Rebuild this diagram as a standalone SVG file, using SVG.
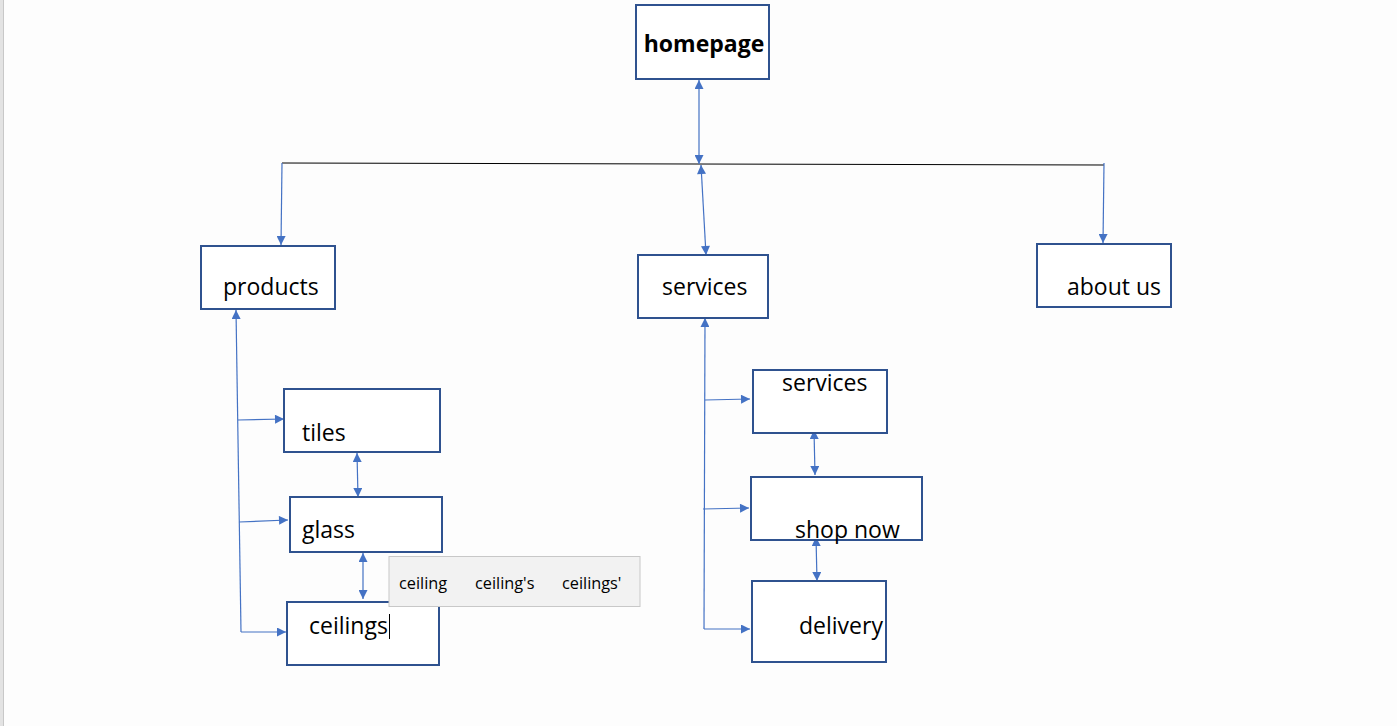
<svg xmlns="http://www.w3.org/2000/svg" width="1397" height="726" viewBox="0 0 1397 726">
<style>
.box{fill:#fff;stroke:#2f528f;stroke-width:2}
.lbl{font-family:"Open Sans","Noto Sans",sans-serif;font-size:23px;fill:#000}
.con{stroke:#4472c4;stroke-width:1.2;fill:none}
.ac{font-family:"Open Sans","Noto Sans",sans-serif;font-size:16.3px;fill:#000}
</style>
<defs>
<marker id="ah" viewBox="0 0 10 10" refX="10" refY="5" markerWidth="10" markerHeight="9" markerUnits="userSpaceOnUse" orient="auto-start-reverse">
<path d="M0,0 L10,5 L0,10 z" fill="#4472c4"/>
</marker>
</defs>
<rect x="0" y="0" width="1397" height="726" fill="#fdfdfd"/>
<rect x="0" y="0" width="3" height="726" fill="#e3e3e3"/>
<line x1="3.5" y1="0" x2="3.5" y2="726" stroke="#c8c8c8" stroke-width="1"/>

<g id="connectors">
<line x1="282" y1="163" x2="1104" y2="165" stroke="#000" stroke-width="1"/>
<line class="con" x1="699" y1="80" x2="699" y2="164" marker-start="url(#ah)" marker-end="url(#ah)"/>
<line class="con" x1="282" y1="163" x2="281" y2="245" marker-end="url(#ah)"/>
<line class="con" x1="701" y1="165" x2="706" y2="255" marker-start="url(#ah)" marker-end="url(#ah)"/>
<line class="con" x1="1104" y1="163" x2="1103" y2="243" marker-end="url(#ah)"/>

<line class="con" x1="236" y1="310" x2="241" y2="632" marker-start="url(#ah)"/>
<line class="con" x1="238" y1="420" x2="284" y2="419" marker-end="url(#ah)"/>
<line class="con" x1="239" y1="522" x2="288" y2="520" marker-end="url(#ah)"/>
<line class="con" x1="241" y1="632" x2="286" y2="632" marker-end="url(#ah)"/>
<line class="con" x1="357" y1="453" x2="358" y2="497" marker-start="url(#ah)" marker-end="url(#ah)"/>
<line class="con" x1="363" y1="553" x2="363" y2="599" marker-start="url(#ah)" marker-end="url(#ah)"/>

<line class="con" x1="705" y1="318" x2="704" y2="629" marker-start="url(#ah)"/>
<line class="con" x1="705" y1="400" x2="750" y2="399" marker-end="url(#ah)"/>
<line class="con" x1="703" y1="509" x2="749" y2="508" marker-end="url(#ah)"/>
<line class="con" x1="704" y1="629" x2="750" y2="629" marker-end="url(#ah)"/>
<line class="con" x1="814" y1="430" x2="815" y2="475" marker-start="url(#ah)" marker-end="url(#ah)"/>
<line class="con" x1="816" y1="537" x2="817" y2="581" marker-start="url(#ah)" marker-end="url(#ah)"/>
</g>

<g id="homepage"><rect class="box" x="636" y="5" width="133" height="74"/><text class="lbl" x="704" y="52" text-anchor="middle" font-weight="bold" font-size="21">homepage</text></g>
<g id="products"><rect class="box" x="201" y="246" width="134" height="63"/><text class="lbl" x="223" y="295">products</text></g>
<g id="services"><rect class="box" x="638" y="255" width="130" height="63"/><text class="lbl" x="662" y="295">services</text></g>
<g id="about-us"><rect class="box" x="1037" y="244" width="134" height="63"/><text class="lbl" x="1067" y="295">about us</text></g>

<g id="tiles"><rect class="box" x="284" y="389" width="156" height="63"/><text class="lbl" x="302" y="441">tiles</text></g>
<g id="glass"><rect class="box" x="290" y="497" width="152" height="55"/><text class="lbl" x="302" y="538">glass</text></g>
<g id="ceilings"><rect class="box" x="287" y="602" width="152" height="63"/><text class="lbl" x="309" y="634">ceilings</text><line x1="389.5" y1="614" x2="389.5" y2="639" stroke="#000" stroke-width="1"/></g>

<g id="services-sub"><rect class="box" x="753" y="370" width="134" height="63"/><text class="lbl" x="782" y="391">services</text></g>
<g id="shop-now"><rect class="box" x="751" y="477" width="171" height="63"/><text class="lbl" x="795" y="538">shop now</text></g>
<g id="delivery"><rect class="box" x="752" y="581" width="134" height="81"/><text class="lbl" x="799" y="634">delivery</text></g>

<g id="autocomplete">
<rect x="389" y="556.5" width="251" height="50" fill="#f2f2f2" stroke="#c8c8c8" stroke-width="1"/>
<text class="ac" x="399" y="589">ceiling</text>
<text class="ac" x="475" y="589">ceiling's</text>
<text class="ac" x="562" y="589">ceilings'</text>
</g>
</svg>
